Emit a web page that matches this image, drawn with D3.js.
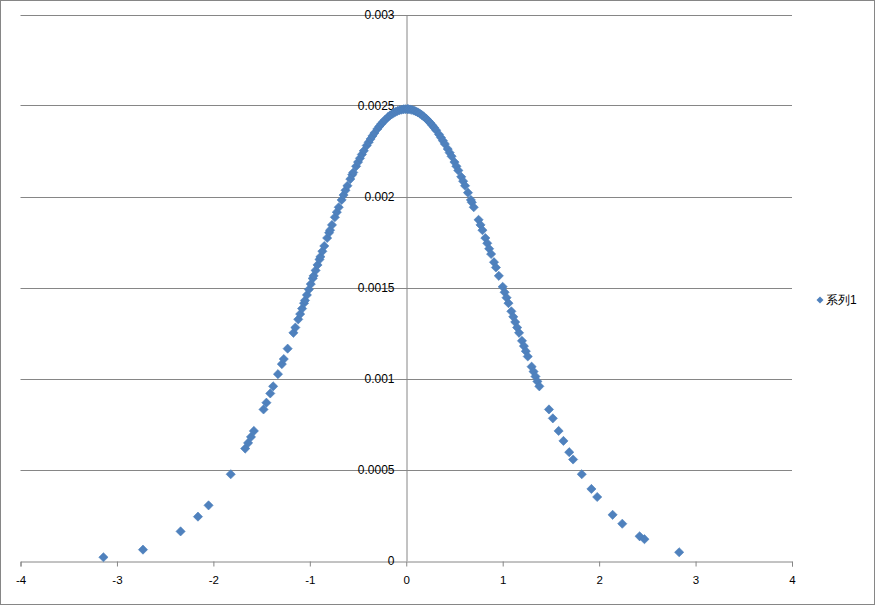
<!DOCTYPE html>
<html>
<head>
<meta charset="utf-8">
<script src="https://cdn.jsdelivr.net/npm/d3@7"></script>
<style>
  body { margin: 0; background: #fff; }
  text { font-family: "Liberation Sans", Arial, sans-serif; }
</style>
</head>
<body>
<script>
'use strict';

// values (x, y)
const xValues = [
  -3.14, -2.73, -2.34, -2.16, -2.05, -1.82, -1.67, -1.64, -1.61, -1.58,
  -1.48, -1.45, -1.41, -1.38, -1.33, -1.29, -1.27, -1.23, -1.17, -1.15, -1.12,
  -1.10, -1.08, -1.06, -1.05, -1.03, -1.01, -0.99, -0.97, -0.96, -0.94,
  -0.92, -0.90, -0.89, -0.87, -0.85, -0.82, -0.80, -0.79, -0.77, -0.74,
  -0.72, -0.70, -0.67, -0.65, -0.63, -0.61, -0.58, -0.56, -0.55, -0.52,
  -0.50, -0.48, -0.46, -0.44, -0.41, -0.39, -0.37, -0.35, -0.33, -0.30,
  -0.28, -0.26, -0.24, -0.22, -0.19, -0.17, -0.15, -0.13, -0.11, -0.09,
  -0.07, -0.05, -0.03, -0.01,
  0.01, 0.02, 0.04, 0.06, 0.08, 0.10, 0.12, 0.14, 0.16, 0.18,
  0.21, 0.23, 0.25, 0.27, 0.29, 0.31, 0.34, 0.36, 0.38, 0.40,
  0.43, 0.45, 0.47, 0.50, 0.52, 0.54, 0.57, 0.59, 0.61, 0.64,
  0.67, 0.68, 0.70, 0.75, 0.77, 0.79, 0.82, 0.84, 0.86, 0.88,
  0.91, 0.93, 0.96, 1.00, 1.02, 1.04, 1.06, 1.09, 1.11, 1.13,
  1.15, 1.17, 1.20, 1.22, 1.24, 1.26, 1.30, 1.32, 1.34, 1.36, 1.38,
  1.48, 1.52, 1.58, 1.63, 1.69, 1.73, 1.82, 1.92, 1.98, 2.14,
  2.24, 2.42, 2.47, 2.83
];
const yValues = [
  0.0000179, 0.0000597, 0.000160, 0.000241, 0.000303, 0.000474, 0.000615, 0.000646, 0.000679, 0.000712,
  0.000830, 0.000867, 0.000918, 0.000957, 0.001024, 0.001079, 0.001107, 0.001164, 0.001251, 0.001280, 0.001325,
  0.001354, 0.001384, 0.001414, 0.001429, 0.001459, 0.001489, 0.001519, 0.001550, 0.001564, 0.001594,
  0.001624, 0.001654, 0.001669, 0.001699, 0.001728, 0.001772, 0.001801, 0.001815, 0.001844, 0.001886,
  0.001914, 0.001941, 0.001981, 0.002008, 0.002034, 0.002059, 0.002096, 0.002120, 0.002132, 0.002166,
  0.002189, 0.002210, 0.002231, 0.002251, 0.002280, 0.002298, 0.002316, 0.002333, 0.002349, 0.002371,
  0.002385, 0.002398, 0.002410, 0.002421, 0.002436, 0.002445, 0.002452, 0.002459, 0.002465, 0.002470,
  0.002474, 0.002477, 0.002479, 0.002480,
  0.002480, 0.002480, 0.002478, 0.002476, 0.002472, 0.002468, 0.002462, 0.002456, 0.002448, 0.002440,
  0.002426, 0.002415, 0.002404, 0.002391, 0.002378, 0.002364, 0.002341, 0.002324, 0.002307, 0.002289,
  0.002261, 0.002241, 0.002221, 0.002189, 0.002166, 0.002143, 0.002108, 0.002084, 0.002059, 0.002021,
  0.001981, 0.001968, 0.001941, 0.001872, 0.001844, 0.001815, 0.001772, 0.001743, 0.001713, 0.001684,
  0.001639, 0.001610, 0.001564, 0.001504, 0.001474, 0.001444, 0.001414, 0.001369, 0.001339, 0.001310,
  0.001280, 0.001251, 0.001207, 0.001178, 0.001150, 0.001121, 0.001065, 0.001038, 0.001011, 0.000984, 0.000957,
  0.000830, 0.000781, 0.000712, 0.000657, 0.000595, 0.000555, 0.000474, 0.000393, 0.000349, 0.000251,
  0.000202, 0.000133, 0.000117, 0.0000452
];
const xTicks = [-4, -3, -2, -1, 0, 1, 2, 3, 4];
const yTicks = [0, 0.0005, 0.001, 0.0015, 0.002, 0.0025, 0.003];
const seriesName = '系列1';

const largura = 875, altura = 605;
const esquerda = 20.5, direita = 792, topo = 14.5, base = 560.5;
const corGrade = '#868686';
const corPonto = '#4F81BD';

const svg = d3.select('body').append('svg')
  .attr('width', largura)
  .attr('height', altura);

// moldura externa
svg.append('rect')
  .attr('x', 0.5).attr('y', 0.5)
  .attr('width', largura - 1).attr('height', altura - 1)
  .attr('fill', '#fff')
  .attr('stroke', corGrade);

const escalaX = d3.scaleLinear().domain([-4, 4]).range([esquerda, direita]);
const escalaY = d3.scaleLinear().domain([0, 0.003]).range([base, topo]);

// linhas de grade horizontais
svg.append('g')
  .selectAll('line')
  .data(yTicks.filter(d => d > 0))
  .enter().append('line')
  .attr('x1', esquerda).attr('x2', direita)
  .attr('y1', d => Math.round(escalaY(d)) + 0.5)
  .attr('y2', d => Math.round(escalaY(d)) + 0.5)
  .attr('stroke', corGrade);

// eixo X
const eixoX = d3.axisBottom(escalaX)
  .tickValues(xTicks)
  .tickSize(5)
  .tickPadding(9)
  .tickFormat(d3.format('d'));
const gX = svg.append('g')
  .attr('transform', `translate(0, ${Math.round(escalaY(0)) + 0.5})`)
  .call(eixoX);
gX.select('.domain').attr('stroke', corGrade);
gX.selectAll('.tick line').attr('stroke', corGrade);
gX.selectAll('.tick text')
  .attr('fill', '#000')
  .style('font-size', '11.5px')
  .text(d => d < 0 ? '-' + Math.abs(d) : d);

// eixo Y (passa por x = 0)
const eixoY = d3.axisLeft(escalaY)
  .tickValues(yTicks)
  .tickSize(0)
  .tickPadding(12)
  .tickFormat(d => d === 0 ? '0' : String(+d.toFixed(4)));
const gY = svg.append('g')
  .attr('transform', `translate(${Math.round(escalaX(0)) + 0.5}, 0)`)
  .call(eixoY);
gY.select('.domain').attr('stroke', corGrade);
gY.selectAll('.tick text')
  .attr('fill', '#000')
  .attr('dy', '0.3em')
  .style('font-size', '12px');

// pontos
const losango = 'M0,-4.6L4.6,0L0,4.6L-4.6,0Z';
const pontos = xValues.map((x, i) => ({ x: x, y: yValues[i] }));
svg.append('g')
  .selectAll('path')
  .data(pontos)
  .enter().append('path')
  .attr('d', losango)
  .attr('transform', d => `translate(${escalaX(d.x)}, ${escalaY(d.y)})`)
  .attr('fill', corPonto)
  .attr('stroke', '#4A7EBB')
  .attr('stroke-width', 0.6);

// legenda
const legenda = svg.append('g').attr('transform', 'translate(820, 300)');
legenda.append('path')
  .attr('d', 'M0,-3.5L3.5,0L0,3.5L-3.5,0Z')
  .attr('fill', corPonto);
legenda.append('text')
  .attr('x', 6)
  .attr('dy', '0.35em')
  .style('font-size', '12px')
  .attr('fill', '#000')
  .text(seriesName);
</script>
</body>
</html>
